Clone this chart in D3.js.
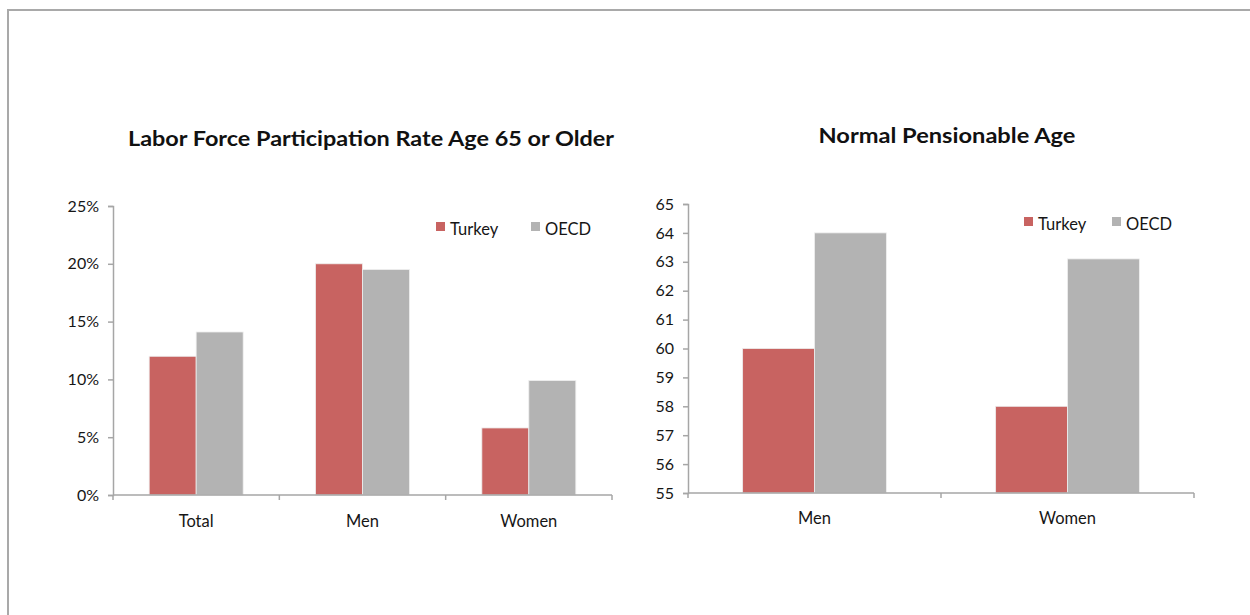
<!DOCTYPE html>
<html>
<head>
<meta charset="utf-8">
<script src="https://cdn.jsdelivr.net/npm/d3@7"></script>
<style>
  html, body { margin: 0; padding: 0; background: #fff; }
  svg { display: block; font-family: Lato, "Open Sans", "DejaVu Sans", sans-serif; }
</style>
</head>
<body>
<svg id="chart" width="1250" height="615"></svg>
<script>
// Series shared by both panels
const seriesNames = ["Turkey", "OECD"];
const seriesColors = ["#c86361", "#b3b3b3"];

// Panel 1: labor force participation, age 65+ (percent)
const lfprCategories = ["Total", "Men", "Women"];
const lfprTurkey = [12.0, 20.0, 5.8];
const lfprOECD = [14.1, 19.5, 9.9];
const lfprTicks = [0, 5, 10, 15, 20, 25];

// Panel 2: normal pensionable age (years)
const pensionCategories = ["Men", "Women"];
const pensionTurkey = [60, 58];
const pensionOECD = [64, 63.1];
const pensionTicks = [55, 56, 57, 58, 59, 60, 61, 62, 63, 64, 65];

const svg = d3.select("#chart");
const textColor = "#161616";

// outer frame (top and left edges)
svg.append("line").attr("x1", 7).attr("x2", 1250).attr("y1", 10).attr("y2", 10)
  .attr("stroke", "#a9a9a9").attr("stroke-width", 2);
svg.append("line").attr("x1", 8).attr("x2", 8).attr("y1", 9).attr("y2", 615)
  .attr("stroke", "#a9a9a9").attr("stroke-width", 2);

function drawPanel(cfg) {
  const g = svg.append("g");
  const rows = cfg.categories.map((c, i) => ({
    cat: c,
    values: [cfg.turkey[i], cfg.oecd[i]]
  }));

  const x = d3.scaleBand().domain(cfg.categories).range([cfg.x0, cfg.x1]).padding(0);
  const xs = d3.scaleBand().domain(seriesNames).range([0, x.bandwidth()])
    .paddingInner(0).paddingOuter(cfg.barPad);
  const y = d3.scaleLinear().domain(d3.extent(cfg.ticks)).range([cfg.yBase, cfg.yTop]);

  // bars
  g.selectAll("g.cat").data(rows).join("g").attr("class", "cat")
    .attr("transform", d => `translate(${x(d.cat)},0)`)
    .selectAll("rect").data(d => d.values.map((v, k) => ({ v, k })))
    .join("rect")
    .attr("x", d => xs(seriesNames[d.k]))
    .attr("width", xs.bandwidth())
    .attr("y", d => y(d.v))
    .attr("height", d => y(cfg.ticks[0]) - y(d.v))
    .attr("fill", d => seriesColors[d.k])
    .attr("stroke", "#eeeeee").attr("stroke-width", 0.8);

  // y axis
  const yAxis = d3.axisLeft(y).tickValues(cfg.ticks).tickSize(5).tickPadding(9)
    .tickFormat(cfg.fmt);
  const ya = g.append("g").attr("transform", `translate(${cfg.x0},0)`).call(yAxis);
  ya.select(".domain").attr("stroke", "#a6a6a6").attr("stroke-width", 1.5);
  ya.selectAll(".tick line").attr("stroke", "#a6a6a6").attr("stroke-width", 1.5);
  ya.selectAll(".tick text").attr("fill", textColor)
    .style("font-size", "16px").style("font-family", "Lato, sans-serif");

  // x axis line with ticks at category boundaries
  const xa = g.append("g");
  xa.append("line").attr("x1", cfg.x0).attr("x2", cfg.x1)
    .attr("y1", cfg.yBase).attr("y2", cfg.yBase)
    .attr("stroke", "#a6a6a6").attr("stroke-width", 1.5);
  const edges = cfg.categories.map(c => x(c)).concat([x.range()[1]]);
  xa.selectAll("line.edge").data(edges).join("line").attr("class", "edge")
    .attr("x1", d => d).attr("x2", d => d)
    .attr("y1", cfg.yBase).attr("y2", cfg.yBase + 5)
    .attr("stroke", "#a6a6a6").attr("stroke-width", 1.5);
  xa.selectAll("text").data(cfg.categories).join("text")
    .attr("x", d => x(d) + x.bandwidth() / 2)
    .attr("y", cfg.yBase + cfg.labelDy)
    .attr("text-anchor", "middle").attr("dominant-baseline", "central")
    .attr("fill", textColor).style("font-size", "16.5px")
    .text(d => d);

  // title
  g.append("text").attr("x", cfg.titleX).attr("y", cfg.titleY)
    .attr("text-anchor", "middle").attr("dominant-baseline", "central")
    .style("font-size", "21px").style("font-weight", "bold").attr("fill", "#111")
    .attr("textLength", cfg.titleW).attr("lengthAdjust", "spacingAndGlyphs")
    .text(cfg.title);

  // legend
  const lg = g.append("g");
  seriesNames.forEach((s, k) => {
    const lx = cfg.legendX[k];
    lg.append("rect").attr("x", lx).attr("y", cfg.legendY).attr("width", 9).attr("height", 9)
      .attr("fill", seriesColors[k]);
    lg.append("text").attr("x", lx + 14).attr("y", cfg.legendY + 13)
      .attr("fill", textColor)
      .style("font-size", "16.5px").text(s);
  });
}

drawPanel({
  categories: lfprCategories, turkey: lfprTurkey, oecd: lfprOECD, ticks: lfprTicks,
  fmt: d => d + "%",
  x0: 113, x1: 612, yBase: 495, yTop: 206, barPad: 0.77, labelDy: 26,
  title: "Labor Force Participation Rate Age 65 or Older", titleX: 371, titleY: 137, titleW: 486,
  legendX: [436, 531], legendY: 222
});

drawPanel({
  categories: pensionCategories, turkey: pensionTurkey, oecd: pensionOECD, ticks: pensionTicks,
  fmt: d => d,
  x0: 688, x1: 1194, yBase: 493, yTop: 204, barPad: 0.76, labelDy: 25,
  title: "Normal Pensionable Age", titleX: 947, titleY: 134, titleW: 257,
  legendX: [1024, 1112], legendY: 217
});
</script>
</body>
</html>
